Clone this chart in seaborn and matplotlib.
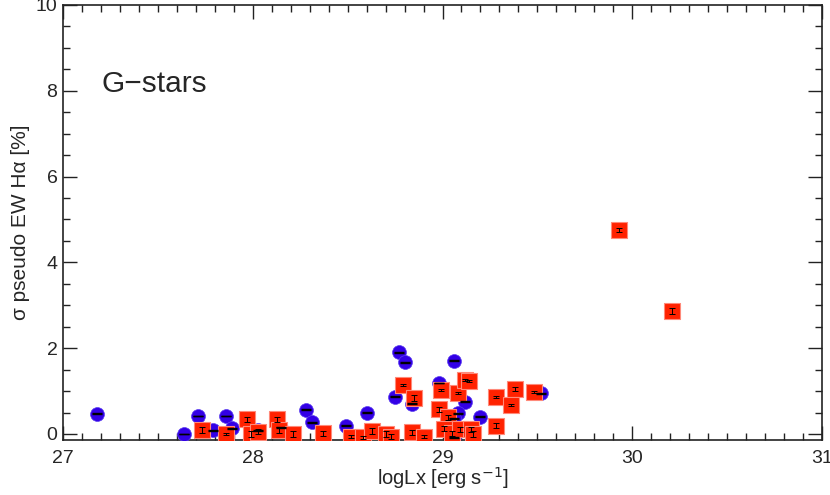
import matplotlib
matplotlib.use("Agg")
import matplotlib.pyplot as plt
from matplotlib.ticker import MultipleLocator
import seaborn as sns
import numpy as np
import pandas as pd

# blue circles
blue_x = [27.18, 27.64, 27.71, 27.79, 27.86, 27.89, 28.03, 28.15, 28.28, 28.31,
          28.49, 28.60, 28.77, 28.80, 28.75, 28.84, 28.98, 29.06, 29.12, 29.08,
          29.06, 29.20, 29.06, 29.52]
blue_y = [0.47, 0.00, 0.42, 0.09, 0.42, 0.13, 0.09, 0.15, 0.57, 0.27,
          0.19, 0.50, 1.90, 1.67, 0.87, 0.71, 1.19, 1.71, 0.75, 0.48,
          0.37, 0.40, -0.08, 0.95]
blue_err = [0.01] * len(blue_x)

# red squares
red_x = [27.73, 27.86, 27.97, 27.99, 28.03, 28.13, 28.14, 28.21, 28.37, 28.52,
         28.58, 28.63, 28.70, 28.73, 28.79, 28.85, 28.84, 28.90, 28.99, 29.08,
         28.98, 29.03, 29.01, 29.05, 29.09, 29.12, 29.14, 29.15, 29.16, 29.28,
         29.28, 29.38, 29.36, 29.48, 29.93, 30.21]
red_y = [0.10, 0.00, 0.34, 0.00, 0.05, 0.34, 0.09, 0.00, 0.02, -0.06,
         -0.08, 0.07, 0.00, -0.06, 1.14, 0.83, 0.04, -0.06, 1.02, 0.95,
         0.58, 0.39, 0.12, 0.02, 0.11, 1.26, 1.23, 0.11, 0.00, 0.87,
         0.19, 1.05, 0.67, 0.98, 4.76, 2.86]
red_err = [0.07, 0.02, 0.05, 0.07, 0.06, 0.06, 0.07, 0.06, 0.06, 0.03,
           0.04, 0.06, 0.06, 0.05, 0.02, 0.07, 0.06, 0.03, 0.02, 0.02,
           0.06, 0.06, 0.06, 0.06, 0.06, 0.02, 0.02, 0.06, 0.06, 0.02,
           0.06, 0.04, 0.02, 0.02, 0.04, 0.07]

blue_df = pd.DataFrame({"x": blue_x, "y": blue_y, "err": blue_err})
red_df = pd.DataFrame({"x": red_x, "y": red_y, "err": red_err})

sns.set_style("ticks")
plt.rcParams["font.family"] = ["Liberation Sans", "DejaVu Sans"]

fig = plt.figure(figsize=(8.3, 4.95), dpi=100)
ax = fig.add_axes([0.0759, 0.1111, 0.9145, 0.8788])

sns.scatterplot(data=blue_df, x="x", y="y", ax=ax, marker="o", s=100,
                color="#3300e6", edgecolor="#5a3cf0", linewidth=0.5, zorder=3)
sns.scatterplot(data=red_df, x="x", y="y", ax=ax, marker="s", s=120,
                color="#ff2200", edgecolor="#ff8a7a", linewidth=0.8, zorder=4)
ax.errorbar(blue_df["x"], blue_df["y"], yerr=blue_df["err"], fmt="none",
            ecolor="black", elinewidth=0.8, capsize=3.5, capthick=1.0, zorder=5)
ax.errorbar(red_df["x"], red_df["y"], yerr=red_df["err"], fmt="none",
            ecolor="black", elinewidth=0.7, capsize=2.5, capthick=0.7, zorder=6)

ax.set_xlim(27, 31)
ax.set_ylim(-0.14, 10)
ax.xaxis.set_major_locator(MultipleLocator(1))
ax.xaxis.set_minor_locator(MultipleLocator(0.1))
ax.yaxis.set_major_locator(MultipleLocator(2))
ax.yaxis.set_minor_locator(MultipleLocator(0.5))
ax.tick_params(which="both", direction="in", top=True, right=True,
               color="#222222", width=1.0, labelsize=14)
ax.tick_params(which="major", length=10)
ax.tick_params(which="minor", length=5)
ax.tick_params(axis="x", which="major", pad=7)
ax.tick_params(axis="y", which="major", pad=4)
for s in ax.spines.values():
    s.set_color("#222222")
    s.set_linewidth(1.2)

ax.set_xlabel("logLx [erg s$^{-1}$]", fontsize=14.5, labelpad=-1)
ax.set_ylabel("σ pseudo EW Hα [%]", fontsize=15, labelpad=4)
ax.text(0.051, 0.80, "G\u2212stars", transform=ax.transAxes, fontsize=21.5)

plt.savefig("out.png", dpi=100)
